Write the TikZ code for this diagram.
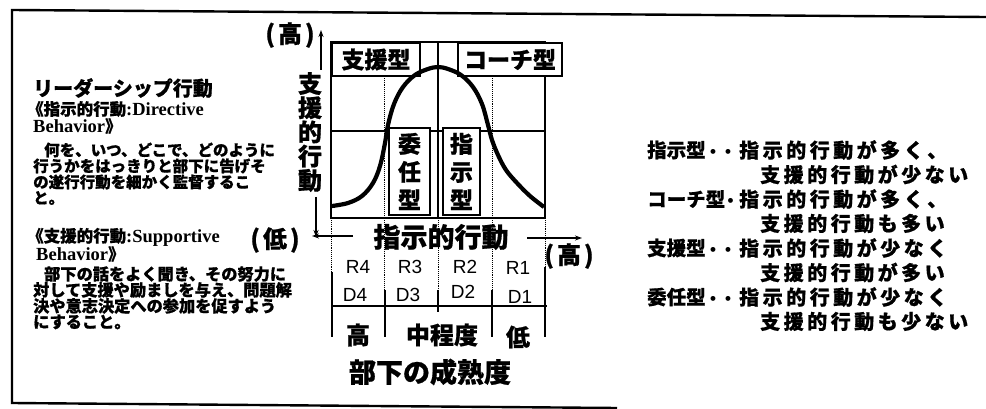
\documentclass[tikz,border=0pt]{standalone}
\usepackage{fontspec}
\setmainfont{Liberation Serif}
\newfontfamily\jp{Noto Sans CJK JP}[BoldFeatures={FakeBold=0.8}]
\newfontfamily\lsans{Liberation Sans}
\usetikzlibrary{arrows.meta}
\newcommand\fsz[1]{\fontsize{#1}{#1}\selectfont}
\def\trkdi#1{\ifx#1\relax\else#1\hspace{\trkamt}\expandafter\trkdi\fi}
\newcommand\trkd[2]{\def\trkamt{#1}\trkdi#2\relax}
\newcommand\nd[1]{\makebox[#1][c]{\lsans\fsz{17}•}}
\tikzset{
  jt/.style={font=\jp\bfseries, inner sep=0pt, anchor=west},
  jc/.style={font=\jp\bfseries, inner sep=0pt, anchor=center},
  frameline/.style={line width=2.4pt},
  gridline/.style={line width=1.1pt},
  dotline/.style={densely dotted, line width=0.9pt},
  lbox/.style={draw, fill=white, line width=1.1pt, inner sep=0pt, font=\jp\bfseries\fsz{23}},
  bell/.style={line width=4.2pt, line join=round},
  axarrow/.style={line width=1.2pt, -{Stealth[length=7pt,width=5pt]}},
  tick/.style={line width=1.6pt},
  rd/.style={font=\lsans\fsz{19}, inner sep=0pt, anchor=center},
  rt/.style={font=\jp\bfseries\fsz{20}, inner sep=0pt, anchor=west},
  rl/.style={font=\jp\bfseries\fsz{19.5}, inner sep=0pt, anchor=west},
}
\begin{document}
\begin{tikzpicture}[x=1pt,y=-1pt]
\fill[white] (0,0) rectangle (986,409);
\useasboundingbox (0,0) rectangle (986,409);
% outer frame
\draw[frameline] (986,17) -- (12,10) -- (12,403) -- (617,408);

% plot box and grid
\draw[gridline] (331,42) rectangle (545,218);
\draw[gridline] (331,131) -- (545,131);
\draw[gridline] (438,42) -- (438,218);
\draw[dotline] (384,76) -- (384,290);
\draw[dotline] (492,76) -- (492,290);
\draw[dotline] (331,218) -- (331,272);
\draw[dotline] (545,218) -- (545,267);
\draw[dotline] (438,218) -- (438,290);

% label boxes
\node[lbox, minimum width=88pt, minimum height=33pt] (bsien) at (376,59.5) {支援型};
\node[lbox, minimum width=104pt, minimum height=33pt] (bcoach) at (510,59.5) {コーチ型};
\node[lbox, minimum width=41pt, minimum height=87pt, align=center, font=\jp\bfseries\fontsize{23}{28}\selectfont] (binin) at (409.5,171.5) {委\\任\\型};
\node[lbox, minimum width=37pt, minimum height=87pt, align=center, font=\jp\bfseries\fontsize{23}{28}\selectfont] (bshiji) at (461.5,171.5) {指\\示\\型};

% bell curve
\draw[bell] plot[smooth, tension=0.6] coordinates {
 (332,206) (348,203) (362,196) (373,183) (380,166) (385,143) (388,125) (394,104)
 (403,87) (415,75) (428,69) (438,67) (448,69) (461,75) (473,87) (482,104)
 (488,125) (492,140) (498,155) (506,170) (517,183) (530,196) (544,207)};

% vertical axis
\node[jc, font=\jp\bfseries\fontsize{24}{24.2}\selectfont, align=center] (vlab) at (310,132) {支\\援\\的\\行\\動};
\coordinate (vtopa) at (321,70);
\coordinate (vtopb) at (321,30);
\draw[axarrow] (vtopa) -- (vtopb);
\coordinate (vbota) at (316,197);
\coordinate (vbotb) at (316,237);
\draw[axarrow] (vbota) -- (vbotb);
\node[jc, font=\jp\bfseries\fsz{24}] (hitop) at (290,35) {(\hspace{3pt}高\hspace{3pt})};

% horizontal axis
\node[jc, font=\jp\bfseries\fsz{27}] (hlab) at (441,237) {指示的行動};
\coordinate (hla) at (353,236);
\coordinate (hlb) at (312,236);
\draw[axarrow] (hla) -- (hlb);
\coordinate (hra) at (527,238);
\coordinate (hrb) at (582,238);
\draw[axarrow] (hra) -- (hrb);
\node[jc, font=\jp\bfseries\fsz{24}] (lolab) at (275,240) {(\hspace{3pt}低\hspace{3pt})};
\node[jc, font=\jp\bfseries\fsz{24}] (hilab) at (569,256) {(\hspace{3pt}高\hspace{3pt})};

% R / D rows
\node[rd] (r4) at (358,267) {R4};
\node[rd] (r3) at (410,267) {R3};
\node[rd] (r2) at (465,267) {R2};
\node[rd] (r1) at (518,268) {R1};
\node[rd] (d4) at (355,295) {D4};
\node[rd] (d3) at (408,295) {D3};
\node[rd] (d2) at (463,292) {D2};
\node[rd] (d1) at (520,297) {D1};
\draw[tick] (332,272) -- (332,337);
\draw[tick] (385,290) -- (385,337);
\draw[tick] (438,290) -- (438,312);
\draw[tick] (492,290) -- (492,337);
\draw[tick] (545,267) -- (545,337);
\draw[tick] (332,306) -- (547,306);
\node[jc, font=\jp\bfseries\fsz{24}] (mhi) at (358,335) {高};
\node[jc, font=\jp\bfseries\fsz{24}] (mmid) at (442,335) {中程度};
\node[jc, font=\jp\bfseries\fsz{24}] (mlo) at (518,337) {低};
\node[jc, font=\jp\bfseries\fsz{27}] (matur) at (430,372) {部下の成熟度};

% left text
\node[jt, font=\jp\bfseries\fsz{20}] (lead) at (33,88) {リーダーシップ行動};
\node[jt] (dirh) at (27,109) {{\jp\bfseries\fsz{16.5}《指示的行動}{\rmfamily\bfseries\fsz{18.5}:Directive}};
\node[jt] (dirb) at (33,126) {{\rmfamily\bfseries\fsz{18.5}Behavior}{\jp\bfseries\fsz{16.5}》}};
\node[jt, font=\jp\bfseries\fsz{15.5}] (dl1) at (33,150) {\hspace{11pt}何を、いつ、どこで、どのように};
\node[jt, font=\jp\bfseries\fsz{15.5}] (dl2) at (33,166) {行うかをはっきりと部下に告げそ};
\node[jt, font=\jp\bfseries\fsz{15.5}] (dl3) at (33,182) {の遂行行動を細かく監督するこ};
\node[jt, font=\jp\bfseries\fsz{15.5}] (dl4) at (33,198) {と。};
\node[jt] (suph) at (27,237) {{\jp\bfseries\fsz{16.5}《支援的行動}{\rmfamily\bfseries\fsz{18.5}:Supportive}};
\node[jt] (supb) at (36,254) {{\rmfamily\bfseries\fsz{18.5}Behavior}{\jp\bfseries\fsz{16.5}》}};
\node[jt, font=\jp\bfseries\fsz{16.2}] (sl1) at (33,274) {\hspace{11pt}部下の話をよく聞き、その努力に};
\node[jt, font=\jp\bfseries\fsz{16.2}] (sl2) at (33,290) {対して支援や励ましを与え、問題解};
\node[jt, font=\jp\bfseries\fsz{16.2}] (sl3) at (33,306) {決や意志決定への参加を促すよう};
\node[jt, font=\jp\bfseries\fsz{16.2}] (sl4) at (33,322) {にすること。};

% right text
\node[rl] (k1) at (647,150) {指示型\nd{15pt}\nd{15pt}};
\node[rt] (k1a) at (739,150) {\trkd{3.5pt}{指示的行動が多く、}};
\node[rt] (k1b) at (760,174.5) {\trkd{3.5pt}{支援的行動が少ない}};
\node[rl] (k2) at (647,199) {コーチ型\nd{11pt}};
\node[rt] (k2a) at (739,199) {\trkd{3.5pt}{指示的行動が多く、}};
\node[rt] (k2b) at (760,223.5) {\trkd{3.5pt}{支援的行動も多い}};
\node[rl] (k3) at (647,248) {支援型\nd{15pt}\nd{15pt}};
\node[rt] (k3a) at (739,248) {\trkd{3.5pt}{指示的行動が少なく}};
\node[rt] (k3b) at (760,272.5) {\trkd{3.5pt}{支援的行動が多い}};
\node[rl] (k4) at (647,297) {委任型\nd{15pt}\nd{15pt}};
\node[rt] (k4a) at (739,297) {\trkd{3.5pt}{指示的行動が少なく}};
\node[rt] (k4b) at (760,321.5) {\trkd{3.5pt}{支援的行動も少ない}};
\end{tikzpicture}
\end{document}
